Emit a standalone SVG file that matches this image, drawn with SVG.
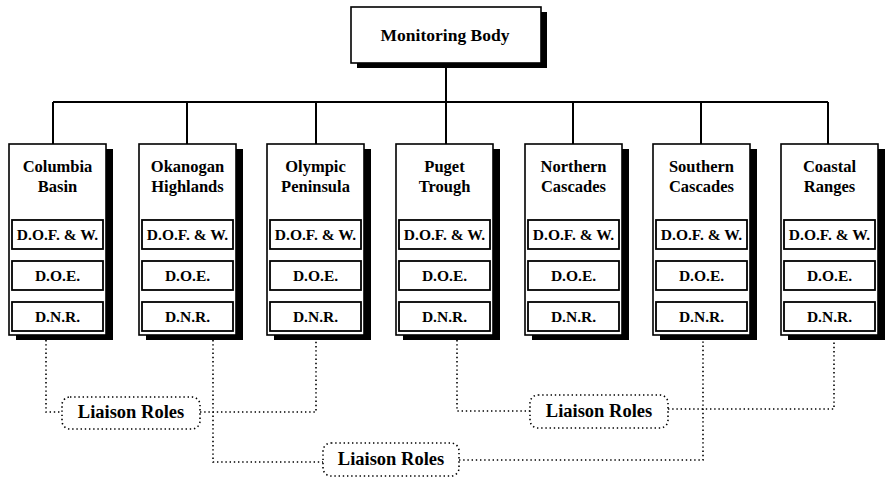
<svg xmlns="http://www.w3.org/2000/svg" width="885" height="479" viewBox="0 0 885 479">
<defs>
<style>
text{font-family:"Liberation Serif","Times New Roman",serif;fill:#000;font-weight:bold;text-anchor:middle}
.m{font-size:17.5px}
.t{font-size:16.5px}
.s{font-size:15.5px}
.l{font-size:18.5px}
.box{fill:#fff;stroke:#000;stroke-width:1.6}
.sh{fill:#000}
.in{fill:#fff;stroke:#000;stroke-width:1.8}
.solid{fill:none;stroke:#000;stroke-width:2}
.dot{fill:none;stroke:#000;stroke-width:1.6;stroke-dasharray:1.4 2.8}
.lbox{fill:#fff;stroke:#000;stroke-width:1.6;stroke-dasharray:1.4 2.8}
</style>
</defs>
<rect width="885" height="479" fill="#fff"/>

<g id="connectors">
<path class="solid" d="M446 63V144M53 102H828M53 102V144M187 102V144M316 102V144M573 102V144M701 102V144M828 102V144"/>
<path class="dot" d="M46 340V412H62"/>
<path class="dot" d="M200 412H316V340"/>
<path class="dot" d="M213 340V462H323"/>
<path class="dot" d="M459 460H703V340"/>
<path class="dot" d="M457 340V411H530"/>
<path class="dot" d="M668 409H834V340"/>
</g>

<g id="monitoring-body">
<rect class="sh" x="357" y="12" width="190" height="56"/>
<rect class="box" x="351" y="7" width="190" height="56"/>
<text class="m" x="445" y="41">Monitoring Body</text>
</g>

<g id="columbia-basin" transform="translate(9,0)">
<rect class="sh" x="7" y="149" width="97" height="191"/>
<rect class="box" x="0" y="144" width="97" height="191"/>
<text class="t" x="48.5" y="172">Columbia</text><text class="t" x="48.5" y="192">Basin</text>
<rect class="in" x="3" y="220" width="91" height="29"/><text class="s" x="48.5" y="240">D.O.F. &amp; W.</text>
<rect class="in" x="3" y="261" width="91" height="29"/><text class="s" x="48.5" y="281">D.O.E.</text>
<rect class="in" x="3" y="302" width="91" height="29"/><text class="s" x="48.5" y="322">D.N.R.</text>
</g>

<g id="okanogan-highlands" transform="translate(139,0)">
<rect class="sh" x="7" y="149" width="97" height="191"/>
<rect class="box" x="0" y="144" width="97" height="191"/>
<text class="t" x="48.5" y="172">Okanogan</text><text class="t" x="48.5" y="192">Highlands</text>
<rect class="in" x="3" y="220" width="91" height="29"/><text class="s" x="48.5" y="240">D.O.F. &amp; W.</text>
<rect class="in" x="3" y="261" width="91" height="29"/><text class="s" x="48.5" y="281">D.O.E.</text>
<rect class="in" x="3" y="302" width="91" height="29"/><text class="s" x="48.5" y="322">D.N.R.</text>
</g>

<g id="olympic-peninsula" transform="translate(267,0)">
<rect class="sh" x="7" y="149" width="97" height="191"/>
<rect class="box" x="0" y="144" width="97" height="191"/>
<text class="t" x="48.5" y="172">Olympic</text><text class="t" x="48.5" y="192">Peninsula</text>
<rect class="in" x="3" y="220" width="91" height="29"/><text class="s" x="48.5" y="240">D.O.F. &amp; W.</text>
<rect class="in" x="3" y="261" width="91" height="29"/><text class="s" x="48.5" y="281">D.O.E.</text>
<rect class="in" x="3" y="302" width="91" height="29"/><text class="s" x="48.5" y="322">D.N.R.</text>
</g>

<g id="puget-trough" transform="translate(396,0)">
<rect class="sh" x="7" y="149" width="97" height="191"/>
<rect class="box" x="0" y="144" width="97" height="191"/>
<text class="t" x="48.5" y="172">Puget</text><text class="t" x="48.5" y="192">Trough</text>
<rect class="in" x="3" y="220" width="91" height="29"/><text class="s" x="48.5" y="240">D.O.F. &amp; W.</text>
<rect class="in" x="3" y="261" width="91" height="29"/><text class="s" x="48.5" y="281">D.O.E.</text>
<rect class="in" x="3" y="302" width="91" height="29"/><text class="s" x="48.5" y="322">D.N.R.</text>
</g>

<g id="northern-cascades" transform="translate(525,0)">
<rect class="sh" x="7" y="149" width="97" height="191"/>
<rect class="box" x="0" y="144" width="97" height="191"/>
<text class="t" x="48.5" y="172">Northern</text><text class="t" x="48.5" y="192">Cascades</text>
<rect class="in" x="3" y="220" width="91" height="29"/><text class="s" x="48.5" y="240">D.O.F. &amp; W.</text>
<rect class="in" x="3" y="261" width="91" height="29"/><text class="s" x="48.5" y="281">D.O.E.</text>
<rect class="in" x="3" y="302" width="91" height="29"/><text class="s" x="48.5" y="322">D.N.R.</text>
</g>

<g id="southern-cascades" transform="translate(653,0)">
<rect class="sh" x="7" y="149" width="97" height="191"/>
<rect class="box" x="0" y="144" width="97" height="191"/>
<text class="t" x="48.5" y="172">Southern</text><text class="t" x="48.5" y="192">Cascades</text>
<rect class="in" x="3" y="220" width="91" height="29"/><text class="s" x="48.5" y="240">D.O.F. &amp; W.</text>
<rect class="in" x="3" y="261" width="91" height="29"/><text class="s" x="48.5" y="281">D.O.E.</text>
<rect class="in" x="3" y="302" width="91" height="29"/><text class="s" x="48.5" y="322">D.N.R.</text>
</g>

<g id="coastal-ranges" transform="translate(781,0)">
<rect class="sh" x="7" y="149" width="97" height="191"/>
<rect class="box" x="0" y="144" width="97" height="191"/>
<text class="t" x="48.5" y="172">Coastal</text><text class="t" x="48.5" y="192">Ranges</text>
<rect class="in" x="3" y="220" width="91" height="29"/><text class="s" x="48.5" y="240">D.O.F. &amp; W.</text>
<rect class="in" x="3" y="261" width="91" height="29"/><text class="s" x="48.5" y="281">D.O.E.</text>
<rect class="in" x="3" y="302" width="91" height="29"/><text class="s" x="48.5" y="322">D.N.R.</text>
</g>

<g id="liaison-roles-1">
<rect class="lbox" x="62" y="397" width="138" height="32" rx="8"/>
<text class="l" x="131" y="418">Liaison Roles</text>
</g>

<g id="liaison-roles-2">
<rect class="lbox" x="530" y="395" width="138" height="33" rx="8"/>
<text class="l" x="599" y="417">Liaison Roles</text>
</g>

<g id="liaison-roles-3">
<rect class="lbox" x="323" y="443" width="136" height="33" rx="8"/>
<text class="l" x="391" y="465">Liaison Roles</text>
</g>
</svg>
